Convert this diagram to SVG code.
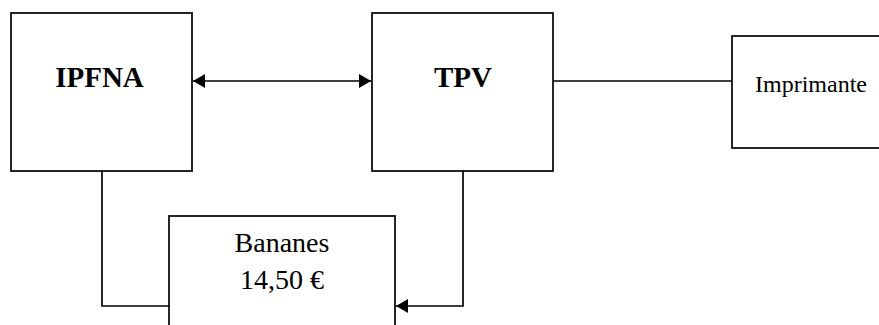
<svg xmlns="http://www.w3.org/2000/svg" width="879" height="325" viewBox="0 0 879 325">
<defs>
<style>
.box{fill:#fff;stroke:#000;stroke-width:1.7}
.ln{fill:none;stroke:#000;stroke-width:1.7}
.b{font-family:"Liberation Serif",serif;font-weight:bold;font-size:29px;text-anchor:middle}
.r{font-family:"Liberation Serif",serif;font-size:24px}
.m{font-family:"Liberation Serif",serif;font-size:28px;text-anchor:middle}
</style>
<marker id="ah" viewBox="0 0 12 14" refX="12" refY="7" markerWidth="12" markerHeight="14" markerUnits="userSpaceOnUse" orient="auto-start-reverse">
<path d="M0,0 L12,7 L0,14 Z" fill="#000"/>
</marker>
</defs>
<rect width="879" height="325" fill="#fff"/>
<g id="connectors">
<line class="ln" x1="193" y1="81" x2="371" y2="81" marker-start="url(#ah)" marker-end="url(#ah)"/>
<line class="ln" x1="553" y1="81" x2="732" y2="81"/>
<polyline class="ln" points="102,171 102,306 169,306"/>
<polyline class="ln" points="463,171 463,306 396,306" marker-end="url(#ah)"/>
</g>
<g id="ipfna">
<rect class="box" x="11" y="13" width="181" height="158"/>
<text class="b" x="99.5" y="87">IPFNA</text>
</g>
<g id="tpv">
<rect class="box" x="372" y="13" width="181" height="158"/>
<text class="b" x="463" y="87">TPV</text>
</g>
<g id="imprimante">
<rect class="box" x="732" y="36" width="160" height="112"/>
<text class="r" x="755" y="92">Imprimante</text>
</g>
<g id="bananes">
<rect class="box" x="169" y="216" width="226" height="120"/>
<text class="m" x="282" y="252">Bananes</text>
<text class="m" x="282" y="289">14,50 €</text>
</g>
</svg>
